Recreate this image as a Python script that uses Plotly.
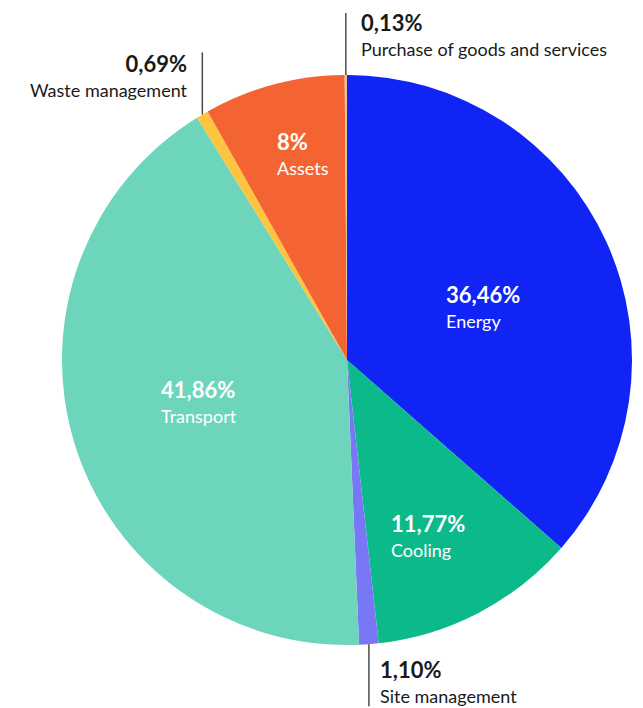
import math
import plotly.graph_objects as go

# ---- data ----
categories = ["Energy", "Cooling", "Site management", "Transport",
              "Waste management", "Assets", "Purchase of goods and services"]
values = [36.46, 11.77, 1.10, 41.86, 0.69, 8.0, 0.13]
value_labels = ["36,46%", "11,77%", "1,10%", "41,86%", "0,69%", "8%", "0,13%"]

# ---- style / layout ----
colors = ["#0f24f5", "#0cb98b", "#7878f6", "#6dd5bc", "#fcc43f", "#f46432", "#e8c394"]
OFF = 8                      # page body margin
W, H = 643 - OFF, 708 - OFF  # figure size
CX, CY, R = 347, 360, 285    # in screen pixels
FONT = "Lato"
DARK = "#1a1a1a"

# inside labels: radial fraction / angle nudge (deg); None -> outside label
inside_r = [0.512, 0.68, None, 0.539, None, 0.742, None]
inside_nudge = [3.0, 2.8, 0, 1.6, 0, 2.8, 0]
# outside labels
outside = {
    2: dict(dir=1, text_dx=10, anchor="left", val_off=24),
    4: dict(dir=-1, text_dx=-13, anchor="right", val_off=-52),
    6: dict(dir=-1, text_dx=14, anchor="left", val_off=-54),
}

def px(x):
    return (x - OFF) / W

def py(y):
    return (H - (y - OFF)) / H

def label_html(i):
    return (f"<span style='font-size:22px'><b>{value_labels[i]}</b></span><br>"
            f"<span style='font-size:18px'>{categories[i]}</span>")

fig = go.Figure(go.Pie(
    labels=categories,
    values=values,
    sort=False,
    direction="clockwise",
    rotation=0,
    marker=dict(colors=colors, line=dict(width=0)),
    textinfo="none",
    hoverinfo="label+percent",
    domain=dict(x=[px(CX - R), px(CX + R)], y=[py(CY + R), py(CY - R)]),
    showlegend=False,
))

total = sum(values)
cum = 0.0
annotations = []
shapes = []
for i, v in enumerate(values):
    mid = (cum + v / 2) / total * 2 * math.pi
    cum += v
    if inside_r[i] is not None:
        a = mid + math.radians(inside_nudge[i])
        r = inside_r[i] * R
        x = CX + r * math.sin(a)
        y = CY - r * math.cos(a)
        annotations.append(dict(
            x=px(x), y=py(y), xref="paper", yref="paper",
            text=label_html(i), showarrow=False, align="left",
            xanchor="center", yanchor="middle", borderpad=0,
            font=dict(family=FONT, size=19, color="white"),
        ))
    else:
        o = outside[i]
        ex = CX + R * math.sin(mid)
        ey = CY - R * math.cos(mid)
        ey2 = ey + o["dir"] * 62
        shapes.append(dict(type="line", xref="paper", yref="paper",
                           x0=px(ex), y0=py(ey), x1=px(ex), y1=py(ey2),
                           line=dict(color="#4a4a4a", width=1.5)))
        ty = ey + o["val_off"] + 13
        annotations.append(dict(
            x=px(ex + o["text_dx"]), y=py(ty), xref="paper", yref="paper",
            text=label_html(i), showarrow=False, borderpad=0,
            align=o["anchor"], xanchor=o["anchor"], yanchor="middle",
            font=dict(family=FONT, size=19, color=DARK),
        ))

fig.update_layout(
    width=W, height=H,
    margin=dict(l=0, r=0, t=0, b=0),
    paper_bgcolor="white",
    plot_bgcolor="white",
    annotations=annotations,
    shapes=shapes,
    font=dict(family=FONT),
)

fig.write_html("out.html")
